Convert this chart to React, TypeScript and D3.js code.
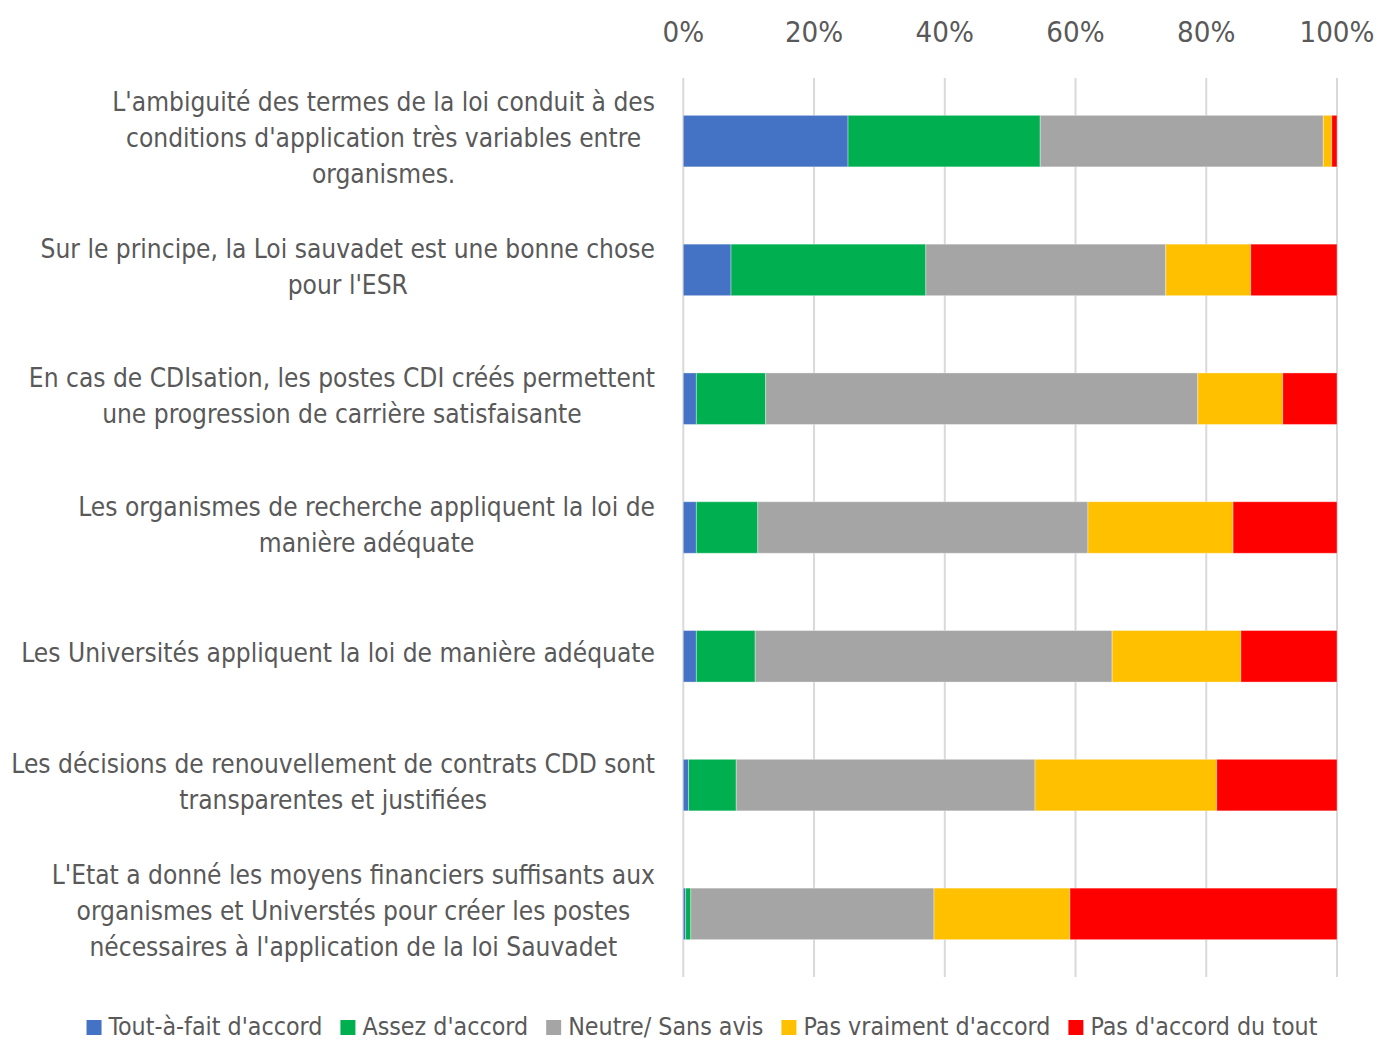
import React, { useEffect, useRef } from "react";
import * as d3 from "d3";

const categories: string[][] = [
  ["L'ambiguité des termes de la loi conduit à des", "conditions d'application très variables entre", "organismes."],
  ["Sur le principe, la Loi sauvadet est une bonne chose", "pour l'ESR"],
  ["En cas de CDIsation, les postes CDI créés permettent", "une progression de carrière satisfaisante"],
  ["Les organismes de recherche appliquent la loi de", "manière adéquate"],
  ["Les Universités appliquent la loi de manière adéquate"],
  ["Les décisions de renouvellement de contrats CDD sont", "transparentes et justifiées"],
  ["L'Etat a donné les moyens financiers suffisants aux", "organismes et Universtés pour créer les postes", "nécessaires à l'application de la loi Sauvadet"],
];

const seriesNames = ["Tout-à-fait d'accord", "Assez d'accord", "Neutre/ Sans avis", "Pas vraiment d'accord", "Pas d'accord du tout"];
const seriesColors = ["#4472C4", "#00B050", "#A5A5A5", "#FFC000", "#FF0000"];

const toutAFait = [25.2, 7.3, 2.0, 2.0, 2.0, 0.8, 0.35];
const assez = [29.4, 29.8, 10.6, 9.4, 9.0, 7.3, 0.8];
const neutre = [43.3, 36.7, 66.1, 50.5, 54.6, 45.7, 37.2];
const pasVraiment = [1.3, 13.0, 13.0, 22.2, 19.7, 27.8, 20.8];
const pasDuTout = [0.8, 13.2, 8.3, 15.9, 14.7, 18.4, 40.85];

const tickValues = [0, 20, 40, 60, 80, 100];

const FONT = "'Liberation Sans Narrow', 'DejaVu Sans Condensed', 'Open Sans', sans-serif";
const TEXT = "#595959";

export default function App() {
  const ref = useRef<SVGSVGElement>(null);

  useEffect(() => {
    const svg = d3.select(ref.current);
    svg.selectAll("*").remove();

    // measure helper: font size so that `txt` spans `target` px
    const fit = (txt: string, target: number) => {
      const t = svg.append("text").attr("font-family", FONT).attr("font-size", 100).text(txt);
      const w = (t.node() as SVGTextElement).getComputedTextLength();
      t.remove();
      return (100 * target) / w;
    };
    const labelSize = fit("Les Universités appliquent la loi de manière adéquate", 634);
    const tickSize = fit("100%", 75);
    const legendSize = fit("Tout-à-fait d'accord", 214);

    const x = d3.scaleLinear().domain([0, 100]).range([683.3, 1337]);
    const y = d3.scaleBand<number>().domain(d3.range(categories.length)).range([78, 977]).paddingInner(0.6).paddingOuter(0.29);

    // gridlines
    svg.append("g").selectAll("line").data(tickValues).join("line")
      .attr("x1", (d) => x(d)).attr("x2", (d) => x(d))
      .attr("y1", 78).attr("y2", 977)
      .attr("stroke", "#d9d9d9").attr("stroke-width", 2);

    // tick labels
    svg.append("g").selectAll("text").data(tickValues).join("text")
      .attr("x", (d) => x(d)).attr("y", 42)
      .attr("text-anchor", "middle")
      .attr("font-family", FONT).attr("font-size", tickSize).attr("fill", TEXT)
      .text((d) => d + "%");

    // stacked bars
    const rows = categories.map((_, i) => ({
      i,
      s0: toutAFait[i], s1: assez[i], s2: neutre[i], s3: pasVraiment[i], s4: pasDuTout[i],
    }));
    const stack = d3.stack<any>().keys(["s0", "s1", "s2", "s3", "s4"]);
    const layers = stack(rows);
    const gBars = svg.append("g");
    layers.forEach((layer, k) => {
      gBars.append("g").selectAll("rect").data(layer).join("rect")
        .attr("x", (d) => x(d[0]))
        .attr("width", (d) => Math.max(0, x(d[1]) - x(d[0])))
        .attr("y", (d: any) => y(d.data.i)!)
        .attr("height", y.bandwidth())
        .attr("fill", seriesColors[k])
        .attr("stroke", "#ffffff").attr("stroke-opacity", 0.35).attr("stroke-width", 1);
    });

    // category labels
    const labelRight = 655;
    const lineH = 36;
    const gLab = svg.append("g");
    categories.forEach((lines, i) => {
      const cy = y(i)! + y.bandwidth() / 2 - 3;
      const t = gLab.append("g");
      const texts = lines.map((ln, j) =>
        t.append("text")
          .attr("y", cy + (j - (lines.length - 1) / 2) * lineH)
          .attr("dy", "0.35em")
          .attr("text-anchor", "middle")
          .attr("font-family", FONT).attr("font-size", labelSize).attr("fill", TEXT)
          .text(ln)
      );
      const widths = texts.map((tx) => (tx.node() as SVGTextElement).getComputedTextLength());
      const maxW = d3.max(widths) || 0;
      texts.forEach((tx) => tx.attr("x", labelRight - maxW / 2));
    });

    // legend
    const gLeg = svg.append("g");
    const items = seriesNames.map((name, k) => {
      const g = gLeg.append("g");
      g.append("rect").attr("width", 15).attr("height", 15).attr("y", -15).attr("fill", seriesColors[k]);
      const tx = g.append("text").attr("x", 22).attr("y", 0)
        .attr("font-family", FONT).attr("font-size", legendSize).attr("fill", TEXT).text(name);
      const w = 22 + (tx.node() as SVGTextElement).getComputedTextLength();
      return { g, w };
    });
    const gap = 18;
    const total = d3.sum(items, (d) => d.w) + gap * (items.length - 1);
    let cx = 702 - total / 2;
    items.forEach((it) => {
      it.g.attr("transform", `translate(${cx},1035)`);
      cx += it.w + gap;
    });
  }, []);

  return (
    <svg ref={ref} width={1378} height={1041} style={{ position: "absolute", left: 0, top: 0, background: "#fff" }} />
  );
}
